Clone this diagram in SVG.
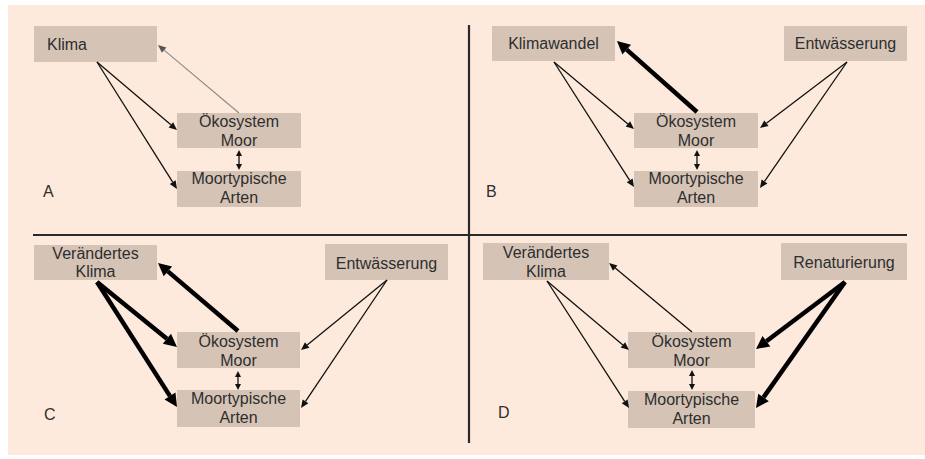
<svg xmlns="http://www.w3.org/2000/svg" width="925" height="459" viewBox="0 0 925 459">
<style>
.box{fill:#D5C4B6}
.t{font-family:"Liberation Sans",Arial,sans-serif;font-size:16px;fill:#2e2e2e;text-anchor:middle}
.lbl{font-family:"Liberation Sans",Arial,sans-serif;font-size:16px;fill:#2e2e2e}
.thin{stroke:#111;stroke-width:1.3;fill:none;marker-end:url(#hThin)}
.thick{stroke:#000;stroke-width:4.5;fill:none;marker-end:url(#hThick)}
.gray{stroke:#8a8a8a;stroke-width:1.1;fill:none;marker-end:url(#hGray)}
.dbl{stroke:#111;stroke-width:1.3;fill:none;marker-start:url(#hSmall);marker-end:url(#hSmall)}
.div{stroke:#2a2a2a;stroke-width:2.2}
</style>
<defs>
<marker id="hThin" markerUnits="userSpaceOnUse" markerWidth="10" markerHeight="10" refX="0" refY="0" orient="auto" overflow="visible"><path d="M0,-3.5 L8,0 L0,3.5 z" fill="#111"/></marker>
<marker id="hGray" markerUnits="userSpaceOnUse" markerWidth="10" markerHeight="10" refX="0" refY="0" orient="auto" overflow="visible"><path d="M0,-3.5 L8,0 L0,3.5 z" fill="#555"/></marker>
<marker id="hThick" markerUnits="userSpaceOnUse" markerWidth="14" markerHeight="14" refX="0" refY="0" orient="auto" overflow="visible"><path d="M0,-6.5 L13,0 L0,6.5 z" fill="#000"/></marker>
<marker id="hSmall" markerUnits="userSpaceOnUse" markerWidth="8" markerHeight="8" refX="0" refY="0" orient="auto-start-reverse" overflow="visible"><path d="M0,-3 L6,0 L0,3 z" fill="#111"/></marker>
</defs>
<rect x="8" y="5" width="917" height="450" fill="#FDEADC"/>
<g id="dividers">
<line class="div" x1="469" y1="25" x2="469" y2="443"/>
<line class="div" x1="33" y1="235" x2="907" y2="235"/>
</g>
<g id="panel-labels">
<text class="lbl" x="43" y="197">A</text>
<text class="lbl" x="486" y="197">B</text>
<text class="lbl" x="44" y="420">C</text>
<text class="lbl" x="498" y="418">D</text>
</g>
<!-- Panel A -->
<g id="A-klima"><rect class="box" x="34" y="26" width="123" height="36"/><text class="lbl" x="47" y="50">Klima</text></g>
<g id="A-oeko"><rect class="box" x="177" y="113" width="124" height="35"/><text class="t" x="239" y="127">Ökosystem</text><text class="t" x="239" y="146">Moor</text></g>
<g id="A-arten"><rect class="box" x="177" y="171" width="124" height="36"/><text class="t" x="239" y="184">Moortypische</text><text class="t" x="239" y="203">Arten</text></g>
<!-- Panel B -->
<g id="B-klimawandel"><rect class="box" x="492" y="26" width="123" height="35"/><text class="t" x="553.5" y="49">Klimawandel</text></g>
<g id="B-entw"><rect class="box" x="784" y="26" width="123" height="35"/><text class="t" x="845.5" y="49">Entwässerung</text></g>
<g id="B-oeko"><rect class="box" x="634" y="113" width="124" height="35"/><text class="t" x="696" y="127">Ökosystem</text><text class="t" x="696" y="146">Moor</text></g>
<g id="B-arten"><rect class="box" x="634" y="171" width="124" height="36"/><text class="t" x="696" y="184">Moortypische</text><text class="t" x="696" y="203">Arten</text></g>
<!-- Panel C -->
<g id="C-klima"><rect class="box" x="34" y="245" width="123" height="35"/><text class="t" x="95.5" y="259">Verändertes</text><text class="t" x="95.5" y="277">Klima</text></g>
<g id="C-entw"><rect class="box" x="325" y="244" width="123" height="36"/><text class="t" x="386.5" y="269">Entwässerung</text></g>
<g id="C-oeko"><rect class="box" x="177" y="332" width="123" height="36"/><text class="t" x="238.5" y="347">Ökosystem</text><text class="t" x="238.5" y="366">Moor</text></g>
<g id="C-arten"><rect class="box" x="177" y="390" width="123" height="37"/><text class="t" x="238.5" y="404">Moortypische</text><text class="t" x="238.5" y="423">Arten</text></g>
<!-- Panel D -->
<g id="D-klima"><rect class="box" x="483" y="243" width="126" height="37"/><text class="t" x="546" y="258">Verändertes</text><text class="t" x="546" y="277">Klima</text></g>
<g id="D-renat"><rect class="box" x="781" y="243" width="126" height="37"/><text class="t" x="844" y="268">Renaturierung</text></g>
<g id="D-oeko"><rect class="box" x="628" y="332" width="127" height="36"/><text class="t" x="691.5" y="347">Ökosystem</text><text class="t" x="691.5" y="366">Moor</text></g>
<g id="D-arten"><rect class="box" x="628" y="391" width="127" height="37"/><text class="t" x="691.5" y="405">Moortypische</text><text class="t" x="691.5" y="424">Arten</text></g>
<g id="connectors">
<!-- A -->
<line class="thin" x1="97" y1="62" x2="170.9" y2="124.8"/>
<line class="thin" x1="97" y1="62" x2="172.7" y2="182.2"/>
<line class="gray" x1="239" y1="113" x2="164.1" y2="50.1"/>
<line class="dbl" x1="239" y1="156" x2="239" y2="164"/>
<!-- B -->
<line class="thin" x1="554" y1="62" x2="627.9" y2="123.9"/>
<line class="thin" x1="554" y1="62" x2="629.7" y2="180.3"/>
<line class="thick" x1="697" y1="112" x2="626.7" y2="49.6"/>
<line class="thin" x1="847" y1="62" x2="766.4" y2="123.2"/>
<line class="thin" x1="847" y1="62" x2="764.5" y2="181.4"/>
<line class="dbl" x1="697" y1="156" x2="697" y2="164"/>
<!-- C -->
<line class="thick" x1="97" y1="282" x2="166.9" y2="338.8"/>
<line class="thick" x1="97" y1="282" x2="170.0" y2="396.1"/>
<line class="thick" x1="238" y1="331" x2="167.9" y2="271.4"/>
<line class="thin" x1="387" y1="280" x2="307.2" y2="345.0"/>
<line class="thin" x1="387" y1="280" x2="305.5" y2="401.4"/>
<line class="dbl" x1="238" y1="377" x2="238" y2="384"/>
<!-- D -->
<line class="thin" x1="547" y1="281" x2="622.9" y2="344.9"/>
<line class="thin" x1="547" y1="281" x2="624.7" y2="401.3"/>
<line class="thin" x1="692" y1="332" x2="615.2" y2="268.1"/>
<line class="thick" x1="845" y1="282" x2="766.4" y2="341.2"/>
<line class="thick" x1="845" y1="282" x2="763.5" y2="397.4"/>
<line class="dbl" x1="692" y1="376" x2="692" y2="384"/>
</g>
</svg>
